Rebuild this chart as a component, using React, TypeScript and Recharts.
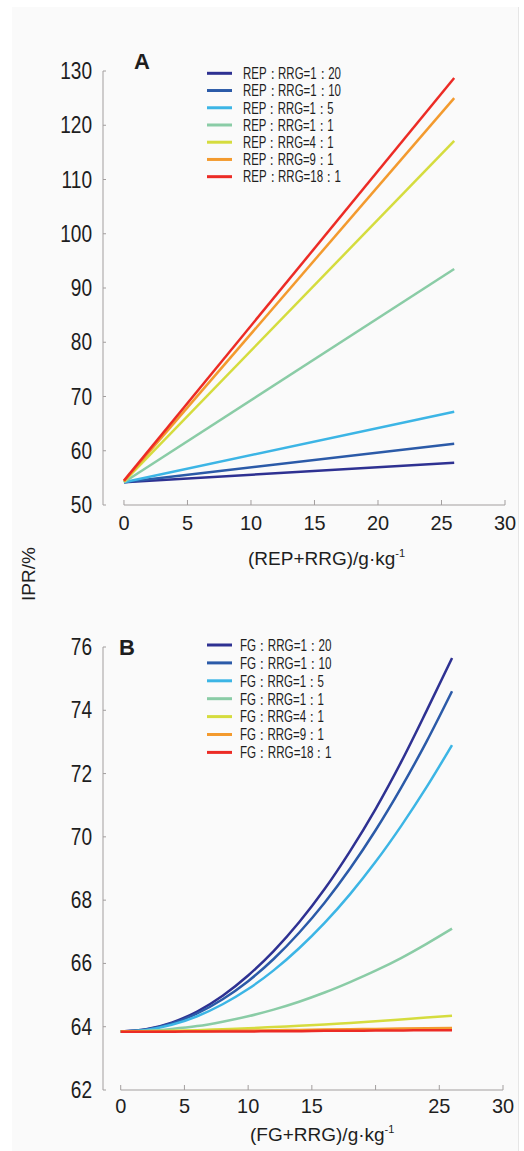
import React from 'react';
import { LineChart, Line, XAxis, YAxis, ReferenceLine, Legend } from 'recharts';

// ---------- shared ----------
const seriesColors = ['#2e3192', '#2b5aa8', '#3cb5e5', '#8acca6', '#d5dc3e', '#f39a2e', '#ec2b25'];
const ratioLabels = ['1：20', '1：10', '1：5', '1：1', '4：1', '9：1', '18：1'];
const xTicks = [0, 5, 10, 15, 20, 25, 30];
const xTickLabelsA = ['0', '5', '10', '15', '20', '25', '30'];
const xTickLabelsB = ['0', '5', '10', '15', '', '25', '30'];

// ---------- panel A (linear) ----------
const xA = [0, 26];
const repA_1_20 = [54.2, 57.8];
const repA_1_10 = [54.2, 61.3];
const repA_1_5 = [54.2, 67.2];
const repA_1_1 = [54.2, 93.5];
const repA_4_1 = [54.3, 117.1];
const repA_9_1 = [54.4, 125.0];
const repA_18_1 = [54.5, 128.7];
const yTicksA = [50, 60, 70, 80, 90, 100, 110, 120, 130];

// ---------- panel B (curves) ----------
const xB = [0, 2, 4, 6, 8, 10, 12, 14, 16, 18, 20, 22, 24, 26];
const fgB_1_20 = [63.85, 63.92, 64.13, 64.48, 64.98, 65.62, 66.39, 67.3, 68.35, 69.55, 70.88, 72.36, 73.98, 75.65];
const fgB_1_10 = [63.85, 63.91, 64.1, 64.42, 64.87, 65.44, 66.14, 66.97, 67.92, 69.0, 70.21, 71.55, 73.01, 74.6];
const fgB_1_5 = [63.85, 63.9, 64.06, 64.33, 64.71, 65.19, 65.78, 66.48, 67.28, 68.19, 69.21, 70.34, 71.57, 72.9];
const fgB_1_1 = [63.85, 63.87, 63.93, 64.02, 64.16, 64.33, 64.54, 64.79, 65.08, 65.41, 65.77, 66.17, 66.62, 67.1];
const fgB_4_1 = [63.85, 63.86, 63.87, 63.89, 63.92, 63.95, 63.99, 64.03, 64.07, 64.12, 64.17, 64.23, 64.29, 64.35];
const fgB_9_1 = [63.85, 63.85, 63.86, 63.86, 63.87, 63.88, 63.89, 63.9, 63.91, 63.92, 63.93, 63.94, 63.95, 63.96];
const fgB_18_1 = [63.84, 63.84, 63.84, 63.85, 63.85, 63.85, 63.86, 63.86, 63.87, 63.87, 63.88, 63.88, 63.89, 63.89];
const yTicksB = [62, 64, 66, 68, 70, 72, 74, 76];

const seriesA = [repA_1_20, repA_1_10, repA_1_5, repA_1_1, repA_4_1, repA_9_1, repA_18_1];
const seriesB = [fgB_1_20, fgB_1_10, fgB_1_5, fgB_1_1, fgB_4_1, fgB_9_1, fgB_18_1];

const dataA = xA.map((x, i) => {
  const row: any = { x };
  seriesA.forEach((s, k) => (row['s' + k] = s[i]));
  return row;
});
const dataB = xB.map((x, i) => {
  const row: any = { x };
  seriesB.forEach((s, k) => (row['s' + k] = s[i]));
  return row;
});

const AXIS = '#a29e9e';
const TXT = '#1e1e1e';
const FONT = '"Liberation Sans", Arial, Helvetica, sans-serif';

function makeXTick(labels: string[], baseline: number) {
  return (props: any) => {
    const { x, y, payload } = props;
    const idx = xTicks.indexOf(payload.value);
    const label = idx >= 0 ? labels[idx] : String(payload.value);
    return (
      <g>
        <line x1={x} x2={x} y1={y} y2={y - 5} stroke={AXIS} strokeWidth={1} />
        <text
          transform={`translate(${x},${y + baseline}) scale(0.95,1)`}
          textAnchor="middle"
          fontSize={21}
          fill={TXT}
          fontFamily={FONT}
        >
          {label}
        </text>
      </g>
    );
  };
}

const YTick = (props: any) => {
  const { x, y, payload } = props;
  return (
    <g>
      <line x1={x} x2={x + 3} y1={y} y2={y} stroke={AXIS} strokeWidth={1} />
      <text
        transform={`translate(${x - 11},${y + 8}) scale(0.83,1)`}
        textAnchor="end"
        fontSize={23}
        fill={TXT}
        fontFamily={FONT}
      >
        {payload.value}
      </text>
    </g>
  );
};

function LegendBox({ prefix, rowY0, rowStep, textX, base, perDigit }: any) {
  return (
    <svg width={170} height={140} style={{ overflow: 'visible', display: 'block' }}>
      {ratioLabels.map((r, i) => {
        const label = prefix + '：RRG=' + r;
        const digits = r.replace(/[^0-9]/g, '').length;
        const y = rowY0 + i * rowStep;
        return (
          <g key={i}>
            <line x1={7} x2={32} y1={y} y2={y} stroke={seriesColors[i]} strokeWidth={3} />
            <text
              x={textX}
              y={y + 5.8}
              fontSize={16}
              fill={TXT}
              fontFamily={FONT}
              textLength={base + perDigit * digits}
              lengthAdjust="spacingAndGlyphs"
            >
              {label}
            </text>
          </g>
        );
      })}
    </svg>
  );
}

export default function App() {
  return (
    <div style={{ position: 'absolute', left: 0, top: 0, width: 524, height: 1151, background: '#ffffff' }}>
      <div
        style={{
          position: 'absolute',
          left: 12,
          top: 7,
          width: 506,
          height: 1144,
          background: '#fafafa',
          borderRight: '1px solid #e6e6e6',
        }}
      />
      {/* Panel A */}
      <div style={{ position: 'absolute', left: 0, top: 0 }}>
        <LineChart width={524} height={600} data={dataA} margin={{ top: 71, right: 19, bottom: 55, left: 43 }}>
          <XAxis
            type="number"
            dataKey="x"
            domain={[-1.65, 30]}
            ticks={xTicks}
            interval={0}
            axisLine={false}
            tickLine={false}
            tickSize={0}
            tickMargin={0}
            height={40}
            tick={makeXTick(xTickLabelsA, 25)}
          />
          <YAxis
            type="number"
            domain={[50, 130]}
            ticks={yTicksA}
            interval={0}
            axisLine={{ stroke: AXIS, strokeWidth: 1 }}
            tickLine={false}
            tickSize={0}
            tickMargin={0}
            width={60}
            tick={YTick}
          />
          <ReferenceLine
            segment={[
              { x: 0, y: 50 },
              { x: 30, y: 50 },
            ]}
            stroke={AXIS}
            strokeWidth={1}
          />
          {seriesA.map((_, k) => (
            <Line
              key={k}
              type="linear"
              dataKey={'s' + k}
              name={'REP：RRG=' + ratioLabels[k]}
              stroke={seriesColors[k]}
              strokeWidth={2.5}
              dot={false}
              isAnimationActive={false}
            />
          ))}
          <Legend
            layout="vertical"
            align="center"
            verticalAlign="middle"
            wrapperStyle={{ left: 200, top: 62, width: 170, height: 140 }}
            content={() => <LegendBox prefix="REP" rowY0={11.3} rowStep={17.23} textX={43} base={76} perDigit={7.3} />}
          />
        </LineChart>
      </div>
      {/* Panel B */}
      <div style={{ position: 'absolute', left: 0, top: 600 }}>
        <LineChart width={524} height={551} data={dataB} margin={{ top: 47, right: 21, bottom: 21, left: 43 }}>
          <XAxis
            type="number"
            dataKey="x"
            domain={[-1.39, 30]}
            ticks={xTicks}
            interval={0}
            axisLine={false}
            tickLine={false}
            tickSize={0}
            tickMargin={0}
            height={40}
            tick={makeXTick(xTickLabelsB, 23)}
          />
          <YAxis
            type="number"
            domain={[62, 76]}
            ticks={yTicksB}
            interval={0}
            axisLine={{ stroke: AXIS, strokeWidth: 1 }}
            tickLine={false}
            tickSize={0}
            tickMargin={0}
            width={60}
            tick={YTick}
          />
          <ReferenceLine
            segment={[
              { x: 0, y: 62 },
              { x: 30, y: 62 },
            ]}
            stroke={AXIS}
            strokeWidth={1}
          />
          {seriesB.map((_, k) => (
            <Line
              key={k}
              type="monotone"
              dataKey={'s' + k}
              name={'FG：RRG=' + ratioLabels[k]}
              stroke={seriesColors[k]}
              strokeWidth={2.5}
              dot={false}
              isAnimationActive={false}
            />
          ))}
          <Legend
            layout="vertical"
            align="center"
            verticalAlign="middle"
            wrapperStyle={{ left: 200, top: 35, width: 170, height: 140 }}
            content={() => <LegendBox prefix="FG" rowY0={10} rowStep={17.9} textX={40} base={69} perDigit={7.5} />}
          />
        </LineChart>
      </div>
      {/* Titles and shared labels */}
      <svg
        width={524}
        height={1151}
        style={{ position: 'absolute', left: 0, top: 0, pointerEvents: 'none' }}
        fontFamily={FONT}
      >
        <text x={134} y={69} fontSize={22} fontWeight="bold" fill={TXT}>A</text>
        <text x={119} y={655} fontSize={22} fontWeight="bold" fill={TXT}>B</text>
        <text transform="translate(35,574) rotate(-90)" textAnchor="middle" fontSize={19} fill={TXT}>IPR/%</text>
        <text x={248} y={565} fontSize={19} fill={TXT}>
          (REP+RRG)/g·kg<tspan fontSize={11} dy={-8}>-1</tspan>
        </text>
        <text x={250} y={1141} fontSize={19} fill={TXT}>
          (FG+RRG)/g·kg<tspan fontSize={11} dy={-8}>-1</tspan>
        </text>
      </svg>
    </div>
  );
}
